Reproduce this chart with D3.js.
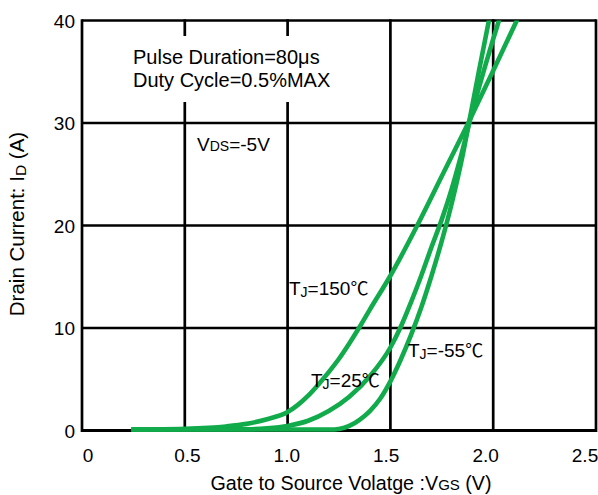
<!DOCTYPE html>
<html>
<head>
<meta charset="utf-8">
<script src="https://cdn.jsdelivr.net/npm/d3@7"></script>
<style>
  html, body { margin: 0; padding: 0; background: #fff; }
  svg { display: block; }
  text { font-family: "Liberation Sans", Arial, "Noto Sans CJK SC", sans-serif; fill: #000; }
  .cjk { font-family: "Noto Sans CJK SC", sans-serif; }
</style>
</head>
<body>
<svg id="chart" width="598" height="495"></svg>
<script>
// ---- data ----
const xTicks = [0, 0.5, 1.0, 1.5, 2.0, 2.5];
const xTickLabels = ["0", "0.5", "1.0", "1.5", "2.0", "2.5"];
const yTicks = [0, 10, 20, 30, 40];
const yTickLabels = ["0", "10", "20", "30", "40"];

const vgs150 = [0.24, 0.5, 0.7, 0.8, 0.9, 1.0, 1.05, 1.1, 1.15, 1.2, 1.25, 1.3, 1.35, 1.4, 1.5, 1.633, 1.757, 1.881, 2.0, 2.117];
const id150  = [0, 0.08, 0.3, 0.55, 1.0, 1.7, 2.4, 3.3, 4.4, 5.6, 6.9, 8.4, 10.0, 11.7, 15, 20, 25, 30, 35, 40];

const vgs25 = [0.24, 0.8, 0.9, 1.0, 1.1, 1.2, 1.3, 1.4, 1.5, 1.55, 1.6, 1.65, 1.7, 1.75, 1.8, 1.85, 1.885, 1.92, 1.96, 2.0, 2.045];
const id25  = [0, 0.03, 0.12, 0.35, 0.85, 1.8, 3.2, 5.2, 8.0, 10.0, 12.4, 15.0, 17.8, 20.5, 23.6, 27.2, 30.0, 32.6, 35.4, 38.1, 41.0];

const vgs55 = [0.24, 1.23, 1.25, 1.3, 1.35, 1.4, 1.45, 1.5, 1.55, 1.6, 1.65, 1.7, 1.75, 1.8, 1.85, 1.882, 1.93, 1.985];
const id55  = [0, 0, 0.05, 0.35, 0.95, 1.8, 3.0, 4.7, 6.8, 9.2, 11.9, 15.0, 18.4, 22.2, 26.6, 29.9, 34.9, 40.5];

const seriesNames = ["150", "25", "-55"];

// ---- layout ----
const svg = d3.select("#chart");
const x = d3.scaleLinear().domain([0, 2.5]).range([82, 596]);
const xLab = d3.scaleLinear().domain([0, 2.5]).range([88, 585]);
const y = d3.scaleLinear().domain([0, 40]).range([430.5, 20.5]);

const green = "#12ab4b";

// grid
svg.append("g").selectAll("line").data(yTicks).join("line")
  .attr("x1", x(0)).attr("x2", x(2.5))
  .attr("y1", d => y(d)).attr("y2", d => y(d))
  .attr("stroke", "#000").attr("stroke-width", d => d === 0 ? 3.2 : 2.7);
svg.append("g").selectAll("line").data(xTicks).join("line")
  .attr("y1", y(0) + 1.5).attr("y2", y(40) - 1.3)
  .attr("x1", d => x(d)).attr("x2", d => x(d))
  .attr("stroke", "#000").attr("stroke-width", 2.7);

// white box behind the pulse annotation
svg.append("rect")
  .attr("x", 128).attr("y", 36).attr("width", 208).attr("height", 66)
  .attr("fill", "#fff");

// curves
svg.append("clipPath").attr("id", "plotclip").append("rect")
  .attr("x", x(0)).attr("y", y(40)).attr("width", x(2.5) - x(0)).attr("height", y(0) - y(40) + 3);

const line = d3.line().x(d => x(d[0])).y(d => Math.min(y(0), y(d[1])) - 1)
  .curve(d3.curveMonotoneX);
const series = [
  d3.zip(vgs150, id150),
  d3.zip(vgs25, id25),
  d3.zip(vgs55, id55)
];
svg.append("g").attr("clip-path", "url(#plotclip)")
  .selectAll("path").data(series).join("path")
  .attr("d", line)
  .attr("fill", "none")
  .attr("stroke", green)
  .attr("stroke-width", 4.6);

// tick labels
const fs = 19;
svg.append("g").selectAll("text").data(xTicks).join("text")
  .attr("x", d => xLab(d)).attr("y", 462)
  .attr("text-anchor", "middle").attr("font-size", fs)
  .text((d, i) => xTickLabels[i]);
svg.append("g").selectAll("text").data(yTicks).join("text")
  .attr("x", 75).attr("y", d => y(d) + 7)
  .attr("text-anchor", "end").attr("font-size", fs)
  .text((d, i) => yTickLabels[i]);

// axis titles
const xt = svg.append("text").attr("x", 351).attr("y", 490)
  .attr("text-anchor", "middle").attr("font-size", 19.7);
xt.append("tspan").text("Gate to Source Volatge :V");
xt.append("tspan").attr("font-size", 15).text("GS");
xt.append("tspan").text(" (V)");

const yt = svg.append("text")
  .attr("transform", "translate(24,224) rotate(-90)")
  .attr("text-anchor", "middle").attr("font-size", 20.5);
yt.append("tspan").text("Drain Current: I");
yt.append("tspan").attr("font-size", 15.5).attr("dy", 2).text("D");
yt.append("tspan").attr("dy", -2).text(" (A)");

// annotations
svg.append("text").attr("x", 133).attr("y", 64).attr("font-size", 20).text("Pulse Duration=80μs");
svg.append("text").attr("x", 133).attr("y", 87).attr("font-size", 20).text("Duty Cycle=0.5%MAX");

const vds = svg.append("text").attr("x", 197).attr("y", 151).attr("font-size", fs);
vds.append("tspan").text("V");
vds.append("tspan").attr("font-size", 14).text("DS");
vds.append("tspan").text("=-5V");

const labels = [
  { name: seriesNames[0], x: 289, y: 295 },
  { name: seriesNames[1], x: 311, y: 387 },
  { name: seriesNames[2], x: 408, y: 357 }
];
labels.forEach(l => {
  const t = svg.append("text").attr("x", l.x).attr("y", l.y).attr("font-size", fs);
  t.append("tspan").text("T");
  t.append("tspan").attr("font-size", 14).attr("dy", 2).text("J");
  t.append("tspan").attr("dy", -2).text("=" + l.name);
  t.append("tspan").attr("class", "cjk").attr("font-size", 18).text("℃");
});
</script>
</body>
</html>
